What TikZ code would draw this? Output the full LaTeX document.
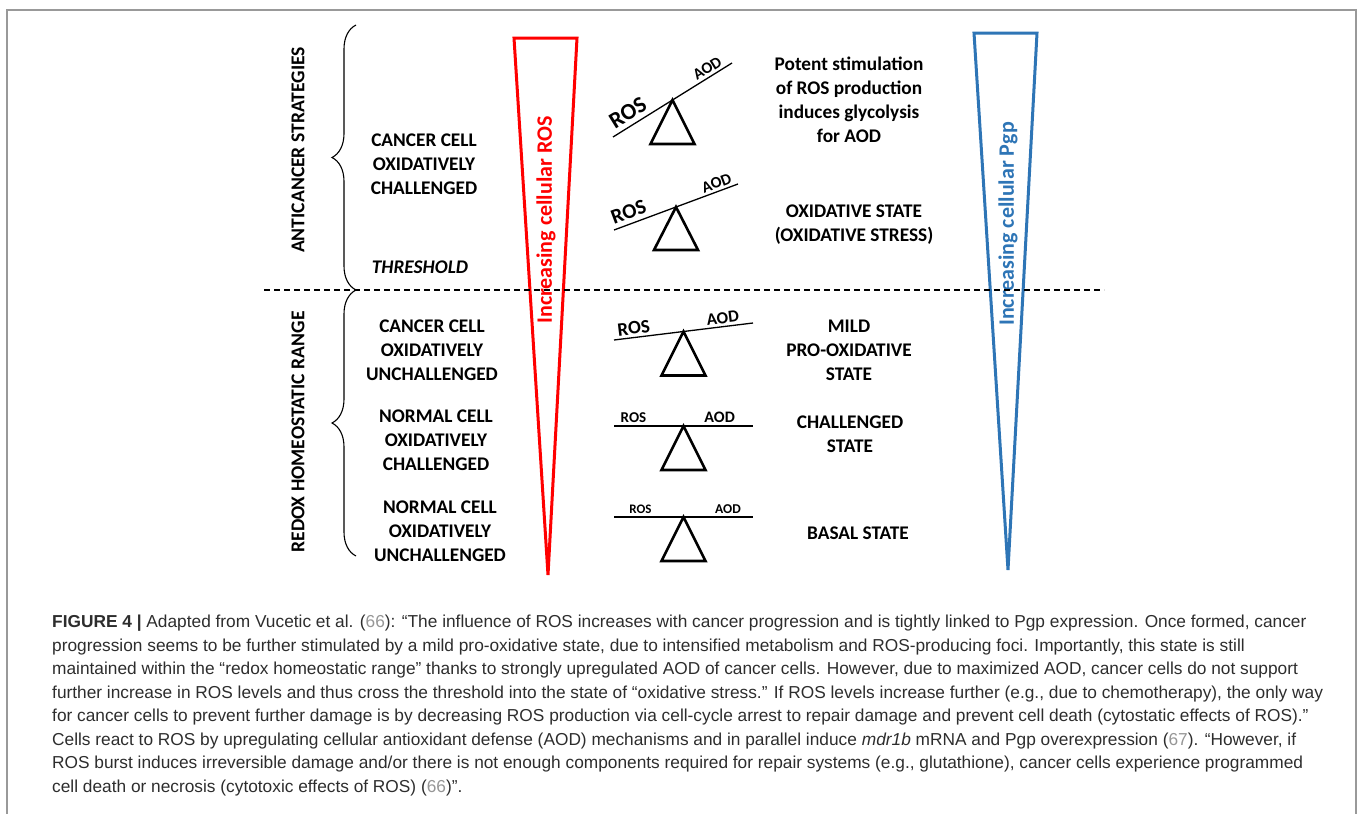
\documentclass[tikz,border=0pt]{standalone}
\usepackage{fontspec}
\setmainfont{Carlito}
\newfontfamily\capfont{Liberation Sans}
\usetikzlibrary{decorations.pathreplacing}
\definecolor{wedgered}{RGB}{255,0,0}
\definecolor{wedgeblue}{RGB}{46,117,182}
\definecolor{capgray}{RGB}{45,45,45}
\definecolor{refgray}{RGB}{150,150,150}
\newcommand{\refn}[1]{\textcolor{refgray}{#1}}

\begin{document}
\begin{tikzpicture}[x=1pt,y=-1pt,
  lbl/.style={font=\fontsize{19.3}{24}\selectfont\bfseries,align=center,inner sep=0pt},
  rng/.style={font=\fontsize{19.6}{24}\selectfont\bfseries,rotate=90,inner sep=0pt},
  wedge/.style={line width=3pt,line join=miter},
  wedgetxt/.style={font=\fontsize{22}{22}\selectfont\bfseries,rotate=90,inner sep=0pt},
  beam/.style={line width=1.3pt},
  pivot/.style={line width=2.6pt,line join=miter},
  sw/.style={sloped,above,inner sep=2.5pt,font=\fontsize{#1}{#1}\selectfont\bfseries},
  brc/.style={decorate,decoration={brace,amplitude=24pt},line width=1.1pt},
  thrline/.style={line width=1.4pt,dash pattern=on 6pt off 4pt},
  frame/.style={line width=1.3pt,black!40},
  captxt/.style={anchor=north west,inner sep=0pt,align=left,text=capgray,
    font=\capfont\fontsize{17.3}{23.5}\selectfont}]
\useasboundingbox (0,0) rectangle (1358,814);
\draw[frame] (7,814) -- (7,10) -- (1356,10) -- (1356,814);

% ranges on the left
\draw[brc] (356,290) -- (356,25);
\draw[brc] (356,556) -- (356,290);
\node[rng] (ant) at (298,150) {ANTICANCER STRATEGIES};
\node[rng] (redox) at (298,432) {REDOX HOMEOSTATIC RANGE};

% cell states
\node[lbl] (ccch) at (424,164) {CANCER CELL\\OXIDATIVELY\\CHALLENGED};
\node[lbl] (thr) at (420,267) {\itshape THRESHOLD};
\node[lbl] (ccun) at (432,350) {CANCER CELL\\OXIDATIVELY\\UNCHALLENGED};
\node[lbl] (ncch) at (436,440) {NORMAL CELL\\OXIDATIVELY\\CHALLENGED};
\node[lbl] (ncun) at (440,531) {NORMAL CELL\\OXIDATIVELY\\UNCHALLENGED};

% wedges
\draw[wedge,wedgered] (514,38) -- (577,38) -- (548,575) -- cycle;
\node[wedgetxt,text=wedgered] (ros) at (546,220) {Increasing cellular ROS};
\draw[wedge,wedgeblue] (974,33) -- (1037,33) -- (1008,570) -- cycle;
\node[wedgetxt,text=wedgeblue] (pgp) at (1008,224) {Increasing cellular Pgp};

% balances
\draw[beam] (613,137) -- coordinate[pos=.5] (f1)
  node[sw=23,pos=.18,inner sep=4.5pt] {ROS} node[sw=16,pos=.83] {AOD} (732,63);
\draw[beam] (614,230) -- coordinate[pos=.5] (f2)
  node[sw=21,pos=.15,inner sep=4pt] {ROS} node[sw=16,pos=.85] {AOD} (738,184);
\draw[beam] (614,340) -- coordinate[pos=.5] (f3)
  node[sw=19,pos=.15] {ROS} node[sw=17,pos=.79] {AOD} (753,323);
\draw[beam] (614,426) -- coordinate[pos=.5] (f4)
  node[sw=15,pos=.14] {ROS} node[sw=16,pos=.76] {AOD} (753,426);
\draw[beam] (614,517) -- coordinate[pos=.5] (f5)
  node[sw=13,pos=.19] {ROS} node[sw=13.5,pos=.82] {AOD} (753,517);
\draw[pivot] (f1) -- ++(-22,44) -- ++(44,0) -- cycle;
\draw[pivot] (f2) -- ++(-22,43) -- ++(44,0) -- cycle;
\draw[pivot] (f3) -- ++(-22,44) -- ++(44,0) -- cycle;
\draw[pivot] (f4) -- ++(-22,44) -- ++(44,0) -- cycle;
\draw[pivot] (f5) -- ++(-22,44) -- ++(44,0) -- cycle;

% states on the right
\node[lbl] (potent) at (849,100) {Potent stimulation\\of ROS production\\induces glycolysis\\for AOD};
\node[lbl] (oxst) at (854,225) {OXIDATIVE STATE\\(OXIDATIVE STRESS)};
\node[lbl] (mild) at (849,350) {MILD\\PRO-OXIDATIVE\\STATE};
\node[lbl] (chst) at (850,434.5) {CHALLENGED\\STATE};
\node[lbl] (basal) at (858,533) {BASAL STATE};

% threshold
\coordinate (thw) at (264,290);
\coordinate (the) at (1104,290);
\draw[thrline] (thw) -- (the);

% caption
\node[captxt] (cap) at (52,615) {\textbf{FIGURE 4 |} Adapted from Vucetic et al. (\refn{66}): “The influence of ROS increases with cancer progression and is tightly linked to Pgp expression. Once formed, cancer\\
progression seems to be further stimulated by a mild pro-oxidative state, due to intensified metabolism and ROS-producing foci. Importantly, this state is still\\
maintained within the “redox homeostatic range” thanks to strongly upregulated AOD of cancer cells. However, due to maximized AOD, cancer cells do not support\\
further increase in ROS levels and thus cross the threshold into the state of “oxidative stress.” If ROS levels increase further (e.g., due to chemotherapy), the only way\\
for cancer cells to prevent further damage is by decreasing ROS production via cell-cycle arrest to repair damage and prevent cell death (cytostatic effects of ROS).”\\
Cells react to ROS by upregulating cellular antioxidant defense (AOD) mechanisms and in parallel induce \textit{mdr1b} mRNA and Pgp overexpression (\refn{67}). “However, if\\
ROS burst induces irreversible damage and/or there is not enough components required for repair systems (e.g., glutathione), cancer cells experience programmed\\
cell death or necrosis (cytotoxic effects of ROS) (\refn{66})”.};
\end{tikzpicture}
\end{document}
